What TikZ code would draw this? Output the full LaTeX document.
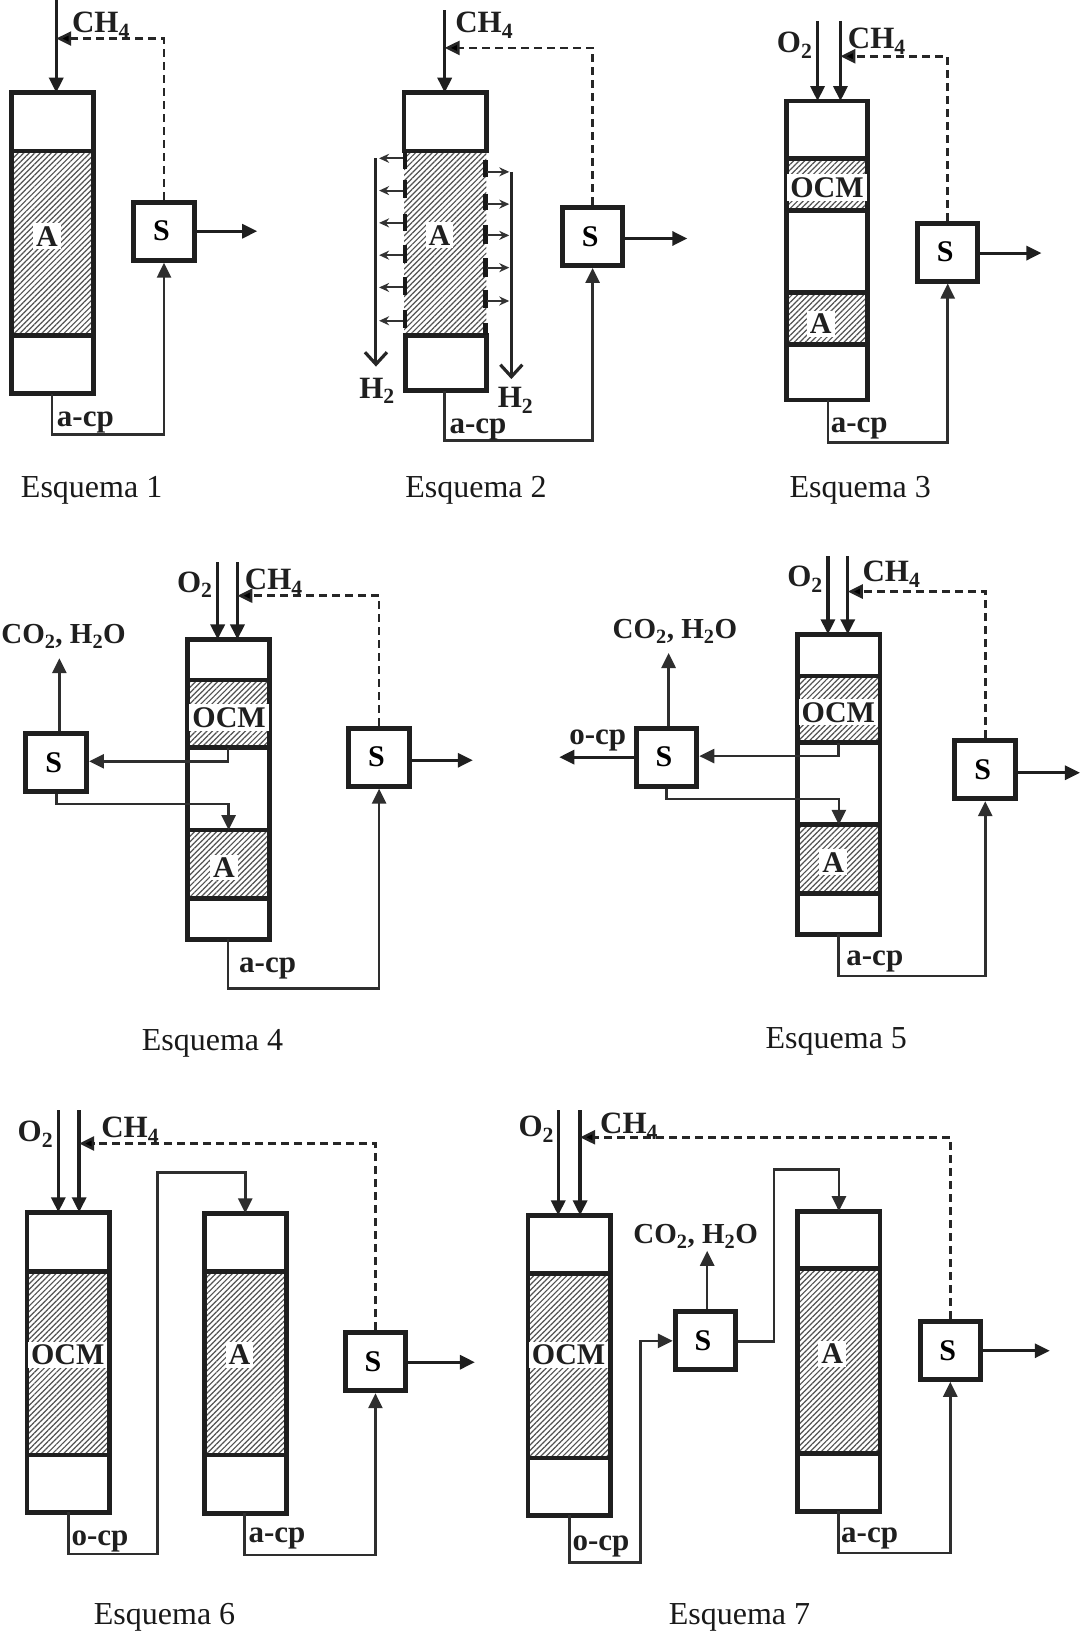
\documentclass[tikz,border=0pt]{standalone}
\usepackage{fontspec}
\setmainfont{Liberation Serif}
\usetikzlibrary{arrows.meta,fit,patterns.meta}
\tikzset{
  x=1.0413pt,y=-1.0413pt,
  sect/.style={draw=black!88,line width=4.8pt,inner sep=0pt,outer sep=0pt},
  hatched/.style={sect,pattern={Lines[angle=45,distance=3.9pt,line width=1.2pt]},pattern color=black!68},
  bare/.style={inner sep=0pt,outer sep=0pt,pattern={Lines[angle=45,distance=3.9pt,line width=1.2pt]},pattern color=black!68},
  sbox/.style={draw=black!88,line width=5pt,minimum width=60.5pt,minimum height=58pt,inner sep=0pt,outer sep=2.5pt,font=\fontsize{30}{32}\bfseries,fill=white},
  lab/.style={font=\fontsize{31}{33}\bfseries,inner sep=1pt,text=black!88,yshift=-3.5pt},
  labco/.style={lab,font=\fontsize{29}{31}\bfseries,yshift=2.5pt},
  onhatch/.style={lab,fill=white,inner sep=3pt,font=\fontsize{30}{32}\bfseries,yshift=2.5pt},
  capt/.style={font=\fontsize{32}{35}\selectfont,inner sep=0pt,text=black!90,yshift=-3.5pt},
  feed/.style={draw=black!88,line width=3.4pt,-{Triangle[length=15pt,width=14pt]}},
  flow/.style={draw=black!82,line width=2.6pt,-{Triangle[length=15pt,width=14pt]}},
  recyc/.style={draw=black!85,line width=2.6pt,dash pattern=on 8pt off 5pt,-{Triangle[length=15pt,width=14pt,fill=black]}},
  outflow/.style={draw=black!88,line width=3pt,-{Triangle[length=15pt,width=14pt]}},
  hline/.style={draw=black!85,line width=3pt,-{Straight Barb[length=12pt,width=22pt,line width=3.2pt]}},
  tickar/.style={draw=black!80,line width=2.1pt,-{Stealth[length=10pt,width=9pt]}},
  wall/.style={draw=black!90,line width=4.6pt}
}
\newcommand{\Sec}[6]{\node[#6,fit={(#2,#3)(#4,#5)}] (#1) {};}
\newcommand{\Sl}{S\hspace*{5pt}}
\begin{document}
\begin{tikzpicture}
\useasboundingbox[fill=white] (0,0) rectangle (1041,1568);
%
% ---------- Esquema 1
\Sec{a1h}{11}{145}{90}{322}{hatched}
\Sec{a1t}{11}{89}{90}{145}{sect}
\Sec{a1b}{11}{322}{90}{378}{sect}
\node[onhatch] (a1A) at (45,226) {A};
\node[sbox] (a1S) at (157.5,222) {\Sl};
\coordinate (a1in) at (54,0);
\coordinate (a1rc) at (54,37);
\coordinate (a1cp) at (50,417);
\coordinate (a1e) at (247,222);
\draw[feed] (a1in) -- (a1in |- a1t.north);
\draw[recyc] (a1S.north) |- (a1rc);
\draw[outflow] (a1S.east |- a1e) -- (a1e);
\draw[flow] (a1cp |- a1b.south) -- (a1cp) -| (a1S.south);
\node[lab] (a1l1) at (97,21) {CH\textsubscript{4}};
\node[lab] (a1l2) at (82,402) {a-cp};
\node[capt] (a1c) at (88,467) {Esquema 1};
%
% ---------- Esquema 2
\node[bare,fit={(388,145)(467,322)}] (a2h) {};
\Sec{a2t}{388}{89}{467}{145}{sect}
\Sec{a2b}{389}{322}{467}{375}{sect}
\foreach \u/\v in {146/162,173/190,205/222,235/253,266/283,298/315}{\draw[wall] (389,\u) -- (389,\v);}
\foreach \u/\v in {154/170,186/202,216/234,248/266,278/296,310/322}{\draw[wall] (466,\u) -- (466,\v);}
\node[onhatch] (a2A) at (422,225) {A};
\node[sbox] (a2S) at (569,227) {\Sl};
\coordinate (a2in) at (427,10);
\coordinate (a2rc) at (427,46);
\coordinate (a2cp) at (427,423);
\coordinate (a2e) at (660,229);
\coordinate (a2lt) at (361,152);
\coordinate (a2lb) at (361,352);
\coordinate (a2rt) at (491,165);
\coordinate (a2rb) at (491,364);
\draw[feed] (a2in) -- (a2in |- a2t.north);
\draw[recyc] (a2S.north) |- (a2rc);
\draw[outflow] (a2S.east |- a2e) -- (a2e);
\draw[flow] (a2cp |- a2b.south) -- (a2cp) -| (a2S.south);
\draw[hline] (a2lt) -- (a2lb);
\draw[hline] (a2rt) -- (a2rb);
\foreach \u in {152,183,214,245,276,308}{\draw[tickar] (387,\u) -- (364,\u);}
\foreach \u in {165,196,226,257,289}{\draw[tickar] (468,\u) -- (489,\u);}
\node[lab] (a2l1) at (465,21) {CH\textsubscript{4}};
\node[lab] (a2l2) at (362,372) {H\textsubscript{2}};
\node[lab] (a2l3) at (495,381) {H\textsubscript{2}};
\node[lab] (a2l4) at (459,409) {a-cp};
\node[capt] (a2c) at (457,467) {Esquema 2};
%
% ---------- Esquema 3
\Sec{a3t}{755}{97}{833}{152}{sect}
\Sec{a3o}{755}{152}{833}{202}{hatched}
\Sec{a3m}{755}{202}{833}{281}{sect}
\Sec{a3h}{755}{281}{833}{331}{hatched}
\Sec{a3b}{755}{331}{833}{384}{sect}
\node[onhatch] (a3O) at (794,179) {OCM};
\node[onhatch] (a3A) at (788,310) {A};
\node[sbox] (a3S) at (910,242) {\Sl};
\coordinate (a3i1) at (785,20);
\coordinate (a3i2) at (807,20);
\coordinate (a3rc) at (807,54);
\coordinate (a3cp) at (795,425);
\coordinate (a3e) at (1000,243);
\draw[feed] (a3i1) -- (a3i1 |- a3t.north);
\draw[feed] (a3i2) -- (a3i2 |- a3t.north);
\draw[recyc] (a3S.north) |- (a3rc);
\draw[outflow] (a3S.east |- a3e) -- (a3e);
\draw[flow] (a3cp |- a3b.south) -- (a3cp) -| (a3S.south);
\node[lab] (a3l1) at (763,40) {O\textsubscript{2}};
\node[lab] (a3l2) at (842,36) {CH\textsubscript{4}};
\node[lab] (a3l3) at (825,408) {a-cp};
\node[capt] (a3c) at (826,467) {Esquema 3};
%
% ---------- Esquema 4
\Sec{a4t}{180}{614}{259}{653}{sect}
\Sec{a4o}{180}{653}{259}{718}{hatched}
\Sec{a4m}{180}{718}{259}{797}{sect}
\Sec{a4h}{180}{797}{259}{863}{hatched}
\Sec{a4b}{180}{863}{259}{902}{sect}
\node[onhatch] (a4O) at (220,688) {OCM};
\node[onhatch] (a4A) at (215,832) {A};
\node[sbox] (a4S) at (364,727) {\Sl};
\node[sbox] (a4L) at (54,732) {\Sl};
\coordinate (a4i1) at (209,540);
\coordinate (a4i2) at (228,540);
\coordinate (a4rc) at (228,572);
\coordinate (a4cp) at (219,949);
\coordinate (a4e) at (454,730);
\coordinate (a4up) at (57,632);
\coordinate (a4x) at (219,731);
\coordinate (a4y) at (54,772);
\draw[feed] (a4i1) -- (a4i1 |- a4t.north);
\draw[feed] (a4i2) -- (a4i2 |- a4t.north);
\draw[recyc] (a4S.north) |- (a4rc);
\draw[outflow] (a4S.east |- a4e) -- (a4e);
\draw[flow] (a4cp |- a4b.south) -- (a4cp) -| (a4S.south);
\draw[flow] (a4x |- a4o.south) -- (a4x) -- (a4L.east |- a4x);
\draw[flow] (a4L.south) -- (a4y) -| (a4h.north);
\draw[flow] (a4up |- a4L.north) -- (a4up);
\node[labco] (a4l1) at (61,610) {CO\textsubscript{2}, H\textsubscript{2}O};
\node[lab] (a4l2) at (187,558) {O\textsubscript{2}};
\node[lab] (a4l3) at (263,556) {CH\textsubscript{4}};
\node[lab] (a4l4) at (257,927) {a-cp};
\node[capt] (a4c) at (204,998) {Esquema 4};
%
% ---------- Esquema 5
\Sec{a5t}{766}{609}{845}{649}{sect}
\Sec{a5o}{766}{649}{845}{713}{hatched}
\Sec{a5m}{766}{713}{845}{792}{sect}
\Sec{a5h}{766}{792}{845}{858}{hatched}
\Sec{a5b}{766}{858}{845}{897}{sect}
\node[onhatch] (a5O) at (805,683) {OCM};
\node[onhatch] (a5A) at (800,827) {A};
\node[sbox] (a5S) at (946,739) {\Sl};
\node[sbox] (a5L) at (640,727) {\Sl};
\coordinate (a5i1) at (795,534);
\coordinate (a5i2) at (814,534);
\coordinate (a5rc) at (814,568);
\coordinate (a5cp) at (805,937);
\coordinate (a5e) at (1037,742);
\coordinate (a5up) at (642,627);
\coordinate (a5x) at (805,726);
\coordinate (a5y) at (640,767);
\coordinate (a5w) at (537,727);
\draw[feed] (a5i1) -- (a5i1 |- a5t.north);
\draw[feed] (a5i2) -- (a5i2 |- a5t.north);
\draw[recyc] (a5S.north) |- (a5rc);
\draw[outflow] (a5S.east |- a5e) -- (a5e);
\draw[flow] (a5cp |- a5b.south) -- (a5cp) -| (a5S.south);
\draw[flow] (a5x |- a5o.south) -- (a5x) -- (a5L.east |- a5x);
\draw[flow] (a5L.south) -- (a5y) -| (a5h.north);
\draw[flow] (a5up |- a5L.north) -- (a5up);
\draw[outflow] (a5L.west) -- (a5w);
\node[labco] (a5l1) at (648,605) {CO\textsubscript{2}, H\textsubscript{2}O};
\node[lab] (a5l2) at (773,553) {O\textsubscript{2}};
\node[lab] (a5l3) at (856,548) {CH\textsubscript{4}};
\node[lab] (a5l4) at (840,920) {a-cp};
\node[lab] (a5l5) at (574,708) {o-cp};
\node[capt] (a5c) at (803,997) {Esquema 5};
%
% ---------- Esquema 6
\Sec{a6h}{26}{1221}{105}{1397}{hatched}
\Sec{a6t}{26}{1164}{105}{1221}{sect}
\Sec{a6b}{26}{1397}{105}{1452}{sect}
\Sec{b6h}{196}{1221}{275}{1397}{hatched}
\Sec{b6t}{196}{1165}{275}{1221}{sect}
\Sec{b6b}{196}{1397}{275}{1453}{sect}
\node[onhatch] (a6O) at (65,1300) {OCM};
\node[onhatch] (b6A) at (230,1300) {A};
\node[sbox] (a6S) at (360.5,1307.5) {\Sl};
\coordinate (a6i1) at (56,1066);
\coordinate (a6i2) at (76,1066);
\coordinate (a6rc) at (76,1098);
\coordinate (a6cp) at (235,1493);
\coordinate (a6e) at (456,1308);
\coordinate (a6p) at (66,1492);
\coordinate (a6q) at (151,1492);
\coordinate (a6r) at (235.5,1126);
\draw[feed] (a6i1) -- (a6i1 |- a6t.north);
\draw[feed] (a6i2) -- (a6i2 |- a6t.north);
\draw[recyc] (a6S.north) |- (a6rc);
\draw[outflow] (a6S.east |- a6e) -- (a6e);
\draw[flow] (a6cp |- b6b.south) -- (a6cp) -| (a6S.south);
\draw[flow] (a6p |- a6b.south) -- (a6p) -- (a6q) |- (a6r) -- (b6t.north);
\node[lab] (a6l1) at (34,1086) {O\textsubscript{2}};
\node[lab] (a6l2) at (125,1082) {CH\textsubscript{4}};
\node[lab] (a6l3) at (266,1474) {a-cp};
\node[lab] (a6l4) at (96,1477) {o-cp};
\node[capt] (a6c) at (158,1550) {Esquema 6};
%
% ---------- Esquema 7
\Sec{a7h}{507}{1223}{586}{1400}{hatched}
\Sec{a7t}{507}{1167}{586}{1223}{sect}
\Sec{a7b}{507}{1400}{586}{1455}{sect}
\Sec{b7h}{766}{1218}{845}{1396}{hatched}
\Sec{b7t}{766}{1163}{845}{1218}{sect}
\Sec{b7b}{766}{1396}{845}{1451}{sect}
\node[onhatch] (a7O) at (546,1300) {OCM};
\node[onhatch] (b7A) at (799,1299) {A};
\node[sbox] (a7S) at (912.5,1296.5) {\Sl};
\node[sbox] (a7M) at (677.5,1287.5) {\Sl};
\coordinate (a7i1) at (536,1066);
\coordinate (a7i2) at (557,1066);
\coordinate (a7rc) at (557,1092);
\coordinate (a7cp) at (805,1491);
\coordinate (a7e) at (1008,1297);
\coordinate (a7p) at (547,1500);
\coordinate (a7q) at (615,1500);
\coordinate (a7g) at (743,1288);
\coordinate (a7r) at (805.5,1123);
\coordinate (a7up) at (679,1201);
\draw[feed] (a7i1) -- (a7i1 |- a7t.north);
\draw[feed] (a7i2) -- (a7i2 |- a7t.north);
\draw[recyc] (a7S.north) |- (a7rc);
\draw[outflow] (a7S.east |- a7e) -- (a7e);
\draw[flow] (a7cp |- b7b.south) -- (a7cp) -| (a7S.south);
\draw[flow] (a7p |- a7b.south) -- (a7p) -- (a7q) |- (a7M.west);
\draw[flow] (a7M.east |- a7g) -- (a7g) |- (a7r) -- (b7t.north);
\draw[flow] (a7up |- a7M.north) -- (a7up);
\node[labco] (a7l1) at (668,1186) {CO\textsubscript{2}, H\textsubscript{2}O};
\node[lab] (a7l2) at (515,1081) {O\textsubscript{2}};
\node[lab] (a7l3) at (604,1078) {CH\textsubscript{4}};
\node[lab] (a7l4) at (835,1474) {a-cp};
\node[lab] (a7l5) at (577,1482) {o-cp};
\node[capt] (a7c) at (710,1550) {Esquema 7};
\end{tikzpicture}
\end{document}
